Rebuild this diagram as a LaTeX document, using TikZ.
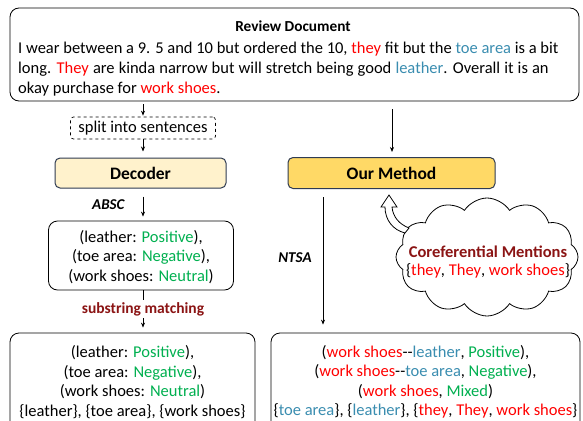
\documentclass[tikz,border=0pt]{standalone}
\usepackage{fontspec}
\setmainfont{Carlito}
\usetikzlibrary{shapes.symbols,arrows.meta}
\definecolor{cred}{HTML}{FF0000}
\definecolor{cblue}{HTML}{3A8DB0}
\definecolor{cgreen}{HTML}{00B050}
\definecolor{cdark}{HTML}{8B1414}
\definecolor{decfill}{HTML}{FFF2CC}
\definecolor{ourfill}{HTML}{FFD966}
\definecolor{bord}{HTML}{2F3B52}
\newcommand{\tred}[1]{\textcolor{cred}{#1}}
\newcommand{\tblue}[1]{\textcolor{cblue}{#1}}
\newcommand{\tgreen}[1]{\textcolor{cgreen}{#1}}
\begin{document}
\begin{tikzpicture}[x=1pt,y=-1pt,
  txt/.style={font=\fontsize{16.5}{19.5}\selectfont, inner sep=0pt},
  rbox/.style={draw, line width=0.8pt, rounded corners=9pt},
  ybox/.style={draw=bord, line width=1pt, rounded corners=5pt, font=\bfseries\fontsize{17.5}{20}\selectfont},
  arr/.style={-{Stealth[length=5pt,width=4pt]}, line width=0.7pt},
  lbl/.style={font=\bfseries\itshape\fontsize{15}{18}\selectfont}
]
\clip (0,0) rectangle (583,420);
\useasboundingbox (0,0) rectangle (583,420);
\fill[white] (0,0) rectangle (583,420);
% review document
\node[rbox, minimum width=569pt, minimum height=93pt] (doc) at (294.5,54.5) {};
\node[font=\bfseries\fontsize{15.3}{18}\selectfont, anchor=base, inner sep=0pt] (title) at (293,32) {Review Document};
\node[txt, anchor=base west] (l1) at (18,53) {I wear between a 9. 5 and 10 but ordered the 10, \tred{they} fit but the \tblue{toe area} is a bit};
\node[txt, anchor=base west] (l2) at (18,73.5) {\spaceskip=4.1pt plus 1pt long. \tred{They} are kinda narrow but will stretch being good \tblue{leather}. Overall it is an};
\node[txt, anchor=base west] (l3) at (18,93.5) {okay purchase for \tred{work shoes}.};
% left branch
\node[txt, draw, dashed, line width=0.7pt, rounded corners=3pt, minimum width=145pt, minimum height=22pt] (split) at (143,128) {split into sentences};
\node[ybox, fill=decfill, minimum width=171pt, minimum height=30pt] (dec) at (140.5,173) {Decoder};
\node[rbox, minimum width=185pt, minimum height=69pt] (absc) at (141,255.5) {};
\node[txt, align=center] (abscT) at (141,257) {(leather: \tgreen{Positive}),\\(toe area: \tgreen{Negative}),\\(work shoes: \tgreen{Neutral})};
\node[rbox, minimum width=245pt, minimum height=110pt] (botL) at (132.5,388) {};
\node[txt, align=center] (botLT) at (132.5,382) {(leather: \tgreen{Positive}),\\(toe area: \tgreen{Negative}),\\(work shoes: \tgreen{Neutral})\\\{leather\}, \{toe area\}, \{work shoes\}};
% right branch
\node[ybox, fill=ourfill, minimum width=207pt, minimum height=31pt] (our) at (391.5,173) {Our Method};
\node[rbox, minimum width=309pt, minimum height=110pt] (botR) at (425.5,388) {};
\node[txt, align=center] (botRT) at (425.5,382) {(\tred{work shoes}-{}-\tblue{leather}, \tgreen{Positive}),\\(\tred{work shoes}-{}-\tblue{toe area}, \tgreen{Negative}),\\(\tred{work shoes}, \tgreen{Mixed})\\\{\tblue{toe area}\}, \{\tblue{leather}\}, \{\tred{they}, \tred{They}, \tred{work shoes}\}};
% cloud
\node[cloud, draw, line width=0.8pt, cloud puffs=12, cloud puff arc=115, aspect=1.6, minimum width=182pt, minimum height=118pt] (cloud) at (487,257) {};
\node[font=\bfseries\fontsize{16.5}{19}\selectfont, text=cdark, inner sep=0pt] (coref) at (488,252) {Coreferential Mentions};
\node[txt] (corefL) at (488,271) {\{\tred{they}, \tred{They}, \tred{work shoes}\}};
% hollow arrow from cloud to method
\draw[fill=white, line width=0.8pt] (389,195) -- (397,207) -- (392,207)
  .. controls (393,217) and (399,224) .. (409,228) -- (405,233)
  .. controls (393,230) and (385,220) .. (385,207) -- (381,207) -- cycle;
% connectors
\coordinate (xL) at (143,0);
\coordinate (xR) at (392,0);
\coordinate (xN) at (323,0);
\draw[arr, shorten <=3pt, shorten >=1pt] (doc.south -| xL) -- (split.north);
\draw[arr, shorten >=6pt] (split.south) -- (dec.north -| split.south);
\draw[arr, shorten <=8pt, shorten >=5pt] (doc.south -| xR) -- (our.north -| xR);
\draw[arr, shorten <=8pt, shorten >=4pt] (dec.south -| xL) -- (absc.north -| xL);
\node[lbl, anchor=east] (abscL) at (128,205) {ABSC};
\draw[arr, shorten >=5pt] (absc.south -| xL) -- (botL.north -| xL);
\node[font=\bfseries\fontsize{15.5}{18}\selectfont, text=cdark, fill=white, inner sep=2pt] (sub) at (143,309) {substring matching};
\draw[arr, shorten <=8pt, shorten >=8pt] (our.south -| xN) -- (botR.north -| xN);
\node[lbl] (ntsa) at (295,258) {NTSA};
\end{tikzpicture}
\end{document}
